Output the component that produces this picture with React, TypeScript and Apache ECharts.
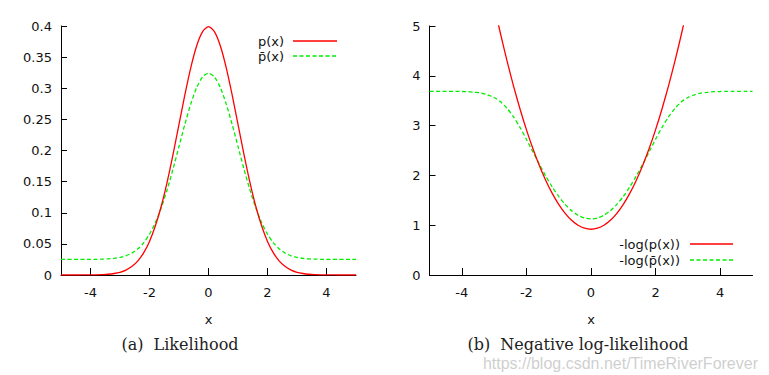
import React, { useEffect, useRef } from "react";
import * as echarts from "echarts";

const xs = [-5, -4.8, -4.6, -4.4, -4.2, -4, -3.8, -3.6, -3.4, -3.2, -3, -2.8, -2.6, -2.4, -2.2, -2, -1.8, -1.6, -1.4, -1.2, -1, -0.8, -0.6, -0.4, -0.2, 0, 0.2, 0.4, 0.6, 0.8, 1, 1.2, 1.4, 1.6, 1.8, 2, 2.2, 2.4, 2.6, 2.8, 3, 3.2, 3.4, 3.6, 3.8, 4, 4.2, 4.4, 4.6, 4.8, 5];

const pValues = [0, 0, 0, 0, 0.0001, 0.0001, 0.0003, 0.0006, 0.0012, 0.0024, 0.0044, 0.0079, 0.0136, 0.0224, 0.0355, 0.054, 0.079, 0.1109, 0.1497, 0.1942, 0.242, 0.2897, 0.3332, 0.3683, 0.391, 0.3989, 0.391, 0.3683, 0.3332, 0.2897, 0.242, 0.1942, 0.1497, 0.1109, 0.079, 0.054, 0.0355, 0.0224, 0.0136, 0.0079, 0.0044, 0.0024, 0.0012, 0.0006, 0.0003, 0.0001, 0.0001, 0, 0, 0, 0];

const pBarValues = [0.025, 0.025, 0.025, 0.025, 0.025, 0.0251, 0.0252, 0.0255, 0.0259, 0.0268, 0.0283, 0.0309, 0.0352, 0.0418, 0.0516, 0.0655, 0.0843, 0.1082, 0.1373, 0.1707, 0.2065, 0.2423, 0.2749, 0.3012, 0.3183, 0.3242, 0.3183, 0.3012, 0.2749, 0.2423, 0.2065, 0.1707, 0.1373, 0.1082, 0.0843, 0.0655, 0.0516, 0.0418, 0.0352, 0.0309, 0.0283, 0.0268, 0.0259, 0.0255, 0.0252, 0.0251, 0.025, 0.025, 0.025, 0.025, 0.025];

const nlpValues = [null, null, null, null, null, null, null, null, null, null, 5.419, 4.839, 4.299, 3.799, 3.339, 2.919, 2.539, 2.199, 1.899, 1.639, 1.419, 1.239, 1.099, 0.999, 0.939, 0.919, 0.939, 0.999, 1.099, 1.239, 1.419, 1.639, 1.899, 2.199, 2.539, 2.919, 3.339, 3.799, 4.299, 4.839, 5.419, null, null, null, null, null, null, null, null, null, null];

const nlpBarValues = [3.689, 3.689, 3.689, 3.689, 3.689, 3.685, 3.681, 3.669, 3.654, 3.619, 3.565, 3.477, 3.347, 3.175, 2.964, 2.726, 2.473, 2.224, 1.986, 1.768, 1.577, 1.418, 1.291, 1.2, 1.145, 1.126, 1.145, 1.2, 1.291, 1.418, 1.577, 1.768, 1.986, 2.224, 2.473, 2.726, 2.964, 3.175, 3.347, 3.477, 3.565, 3.619, 3.654, 3.669, 3.681, 3.685, 3.689, 3.689, 3.689, 3.689, 3.689];

const xTicks = [-4, -2, 0, 2, 4];
const leftLegend = ["p(x)", "p\u0304(x)"];
const rightLegend = ["-log(p(x))", "-log(p\u0304(x))"];
const captions = ["(a)  Likelihood", "(b)  Negative log-likelihood"];
const watermark = "https://blog.csdn.net/TimeRiverForever";

const RED = "#ff0000";
const GREEN = "#00ee00";
const SANS = "DejaVu Sans";
const SERIF = "DejaVu Serif";

function pairs(vals: (number | null)[]) {
  return xs.map((x, i) => [x, vals[i]]);
}

function xAxisCfg(gridIndex: number) {
  return {
    type: "value",
    gridIndex,
    min: -5,
    max: 5,
    name: "x",
    nameLocation: "middle",
    nameGap: 38,
    nameTextStyle: { fontFamily: SANS, fontSize: 13, color: "#111" },
    axisLine: { show: true, onZero: false, lineStyle: { color: "#000", width: 1 } },
    axisTick: { show: true, inside: true, length: 7, customValues: xTicks, lineStyle: { color: "#000" } },
    axisLabel: { customValues: xTicks, margin: 11, fontFamily: SANS, fontSize: 13, color: "#111" },
    splitLine: { show: false },
  };
}

function yAxisCfg(gridIndex: number, max: number, interval: number) {
  return {
    type: "value",
    gridIndex,
    min: 0,
    max,
    interval,
    axisLine: { show: true, onZero: false, lineStyle: { color: "#000", width: 1 } },
    axisTick: { show: true, inside: true, length: 6, lineStyle: { color: "#000" } },
    axisLabel: { margin: 9, fontFamily: SANS, fontSize: 13, color: "#111" },
    splitLine: { show: false },
  };
}

function legendGraphics(labels: string[], textRight: number, lineX1: number, lineX2: number, ys: number[]) {
  const els: any[] = [];
  labels.forEach((label, i) => {
    els.push({
      type: "text",
      x: textRight,
      y: ys[i],
      style: { text: label, font: `13px "${SANS}"`, fill: "#111", align: "right", verticalAlign: "middle" },
    });
    els.push({
      type: "line",
      shape: { x1: lineX1, y1: ys[i], x2: lineX2, y2: ys[i] },
      style: i === 0 ? { stroke: RED, lineWidth: 1.3 } : { stroke: GREEN, lineWidth: 1.3, lineDash: [4, 2.5] },
    });
  });
  return els;
}

export default function App() {
  const ref = useRef<HTMLDivElement>(null);
  useEffect(() => {
    if (!ref.current) return;
    const chart = echarts.init(ref.current, null, { renderer: "svg" });
    const lineSeries = (name: string, vals: (number | null)[], idx: number, color: string, dashed: boolean) => ({
      type: "line",
      name,
      xAxisIndex: idx,
      yAxisIndex: idx,
      data: pairs(vals),
      showSymbol: false,
      symbol: "none",
      smooth: 0.25,
      clip: true,
      connectNulls: false,
      lineStyle: { color, width: 1.3, type: dashed ? [4, 2.5] : "solid" },
      itemStyle: { color },
      z: dashed ? 3 : 4,
    });
    chart.setOption({
      animation: false,
      backgroundColor: "#ffffff",
      grid: [
        { left: 61, top: 26, width: 295, height: 249, containLabel: false },
        { left: 429.5, top: 26, width: 323, height: 249, containLabel: false },
      ],
      xAxis: [xAxisCfg(0), xAxisCfg(1)],
      yAxis: [yAxisCfg(0, 0.4, 0.05), yAxisCfg(1, 5, 1)],
      series: [
        lineSeries("p(x)", pValues, 0, RED, false),
        lineSeries("p\u0304(x)", pBarValues, 0, GREEN, true),
        lineSeries("-log(p(x))", nlpValues, 1, RED, false),
        lineSeries("-log(p\u0304(x))", nlpBarValues, 1, GREEN, true),
      ],
      graphic: [
        ...legendGraphics(leftLegend, 284, 293, 337, [41, 56]),
        ...legendGraphics(rightLegend, 680, 690, 733, [244, 260]),
        {
          type: "text",
          x: 180,
          y: 344,
          style: { text: captions[0], font: `16px "${SERIF}"`, fill: "#222", align: "center", verticalAlign: "middle" },
        },
        {
          type: "text",
          x: 578,
          y: 344,
          style: { text: captions[1], font: `16px "${SERIF}"`, fill: "#222", align: "center", verticalAlign: "middle" },
        },
        {
          type: "text",
          x: 758,
          y: 363,
          z: 10,
          style: { text: watermark, font: `16px "Liberation Sans"`, fill: "rgba(190,190,190,0.75)", align: "right", verticalAlign: "middle" },
        },
      ],
    });
    return () => chart.dispose();
  }, []);
  return <div ref={ref} style={{ position: "fixed", left: 0, top: 0, width: 769, height: 375 }} />;
}
